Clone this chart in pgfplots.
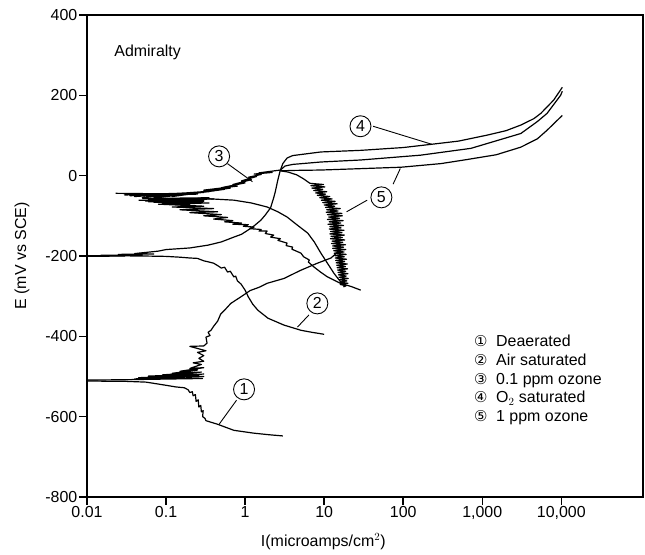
\documentclass[border=0pt]{standalone}
\usepackage{fontspec}
\setmainfont{Liberation Sans}
\newfontfamily\dejavu{DejaVu Sans}
\usepackage{pgfplots}
\pgfplotsset{compat=1.18}
\newcommand{\fs}{\fontsize{16}{19}\selectfont}
\begin{document}
\begin{tikzpicture}
\begin{axis}[
  name=ax,
  scale only axis,
  width=556bp, height=482bp,
  xmode=log, log basis x=10,
  xmin=0.01, xmax=1.08e5,
  ymin=-800, ymax=400,
  xtick={0.01,0.1,1,10,100,1000,10000},
  xticklabels={0.01,0.1,1,10,100,{1,000},{10,000}},
  ytick={-800,-600,-400,-200,0,200,400},
  minor xtick={}, minor tick num=0,
  xtick pos=bottom, ytick pos=left,
  tick align=outside,
  major tick length=8bp,
  axis line style={line width=1.6pt},
  major tick style={line width=1.5pt, black},
  /pgf/number format/assume math mode=true,
  tick label style={font=\fs},
  yticklabel style={inner sep=1.5bp},
  xticklabel style={inner sep=1.5bp},
  label style={font=\fs},
  xlabel={I(microamps/cm$^{2}$)},
  ylabel={E (mV vs SCE)},
  xlabel style={at={(axis description cs:0.425,-0.092)}, anchor=center},
  ylabel style={at={(axis description cs:-0.117,0.5)}, anchor=center},
  clip=false,
  no marks,
  cycle list={{black, solid, mark=none}},
  every axis plot/.append style={line width=1.2pt, line join=round},
]
% Curve 1 cathodic
\addplot coordinates {(0.01,-511)(0.02,-512)(0.03,-512)(0.0556,-514)(0.081,-519)(0.133,-526)(0.17,-528)(0.19,-533)(0.2,-540)(0.215,-538)(0.22,-548)(0.235,-545)(0.24,-562)(0.255,-558)(0.26,-576)(0.275,-572)(0.28,-588)(0.295,-585)(0.29,-600)(0.31,-604)(0.32,-610)(0.45,-619)(0.72,-634)(1.28,-641)(2.0,-645)(3.0,-648)};
% Curve 1 spikes and anodic
\addplot coordinates {(0.01,-509)(0.03,-508)(0.29,-505)(0.04,-506)(0.3,-500)(0.045,-503)(0.26,-497)(0.06,-499)(0.3,-494)(0.09,-496)(0.28,-489)(0.12,-492)(0.25,-484)(0.15,-487)(0.3,-478)(0.2,-480)(0.28,-470)(0.22,-466)(0.3,-462)(0.26,-455)(0.3,-448)(0.25,-440)(0.32,-436)(0.2,-425)(0.3,-424)(0.33,-417)(0.32,-402)(0.36,-398)(0.34,-390)(0.37,-385)(0.4,-375)(0.45,-362)(0.49,-345)(0.55,-335)(0.66,-318)(0.88,-302)(1.16,-286)(1.5,-278)(1.9,-268)(3.1,-256)(5.0,-236)(8.2,-218)(12.2,-205)(14.5,-192)(15.5,-178)};
% Curve 2 cathodic
\addplot coordinates {(0.01,-199)(0.05,-200)(0.1,-201)(0.15,-203)(0.2,-205)(0.25,-206)(0.3,-212)(0.35,-215)(0.4,-218)(0.45,-224)(0.5,-230)(0.55,-228)(0.6,-240)(0.65,-238)(0.72,-252)(0.76,-250)(0.8,-262)(0.89,-270)(1.0,-285)(1.1,-302)(1.25,-320)(1.45,-335)(1.95,-355)(3.1,-372)(5.1,-385)(7,-390)(10,-395)};
% Curve 2 anodic
\addplot coordinates {(0.01,-201)(0.03,-200)(0.015,-198)(0.05,-198)(0.025,-196)(0.07,-195)(0.04,-194)(0.079,-188)(0.1,-184)(0.2,-180)(0.34,-173)(0.5,-165)(0.72,-153)(0.9,-146)(1.08,-136)(1.3,-125)(1.58,-111)(1.8,-98)(2.1,-80)(2.3,-55)(2.41,-40)(2.6,-10)(2.79,14)};
% Curve 3 anodic spikes
\addplot coordinates {(0.023,-44)(0.25,-46)(0.03,-48)(0.3,-42)(0.035,-50)(0.35,-40)(0.04,-52)(0.4,-38)(0.05,-55)(0.45,-36)(0.07,-56)(0.55,-34)(0.12,-52)(0.65,-31)(0.3,-36)(0.8,-26)(0.5,-30)(1.0,-18)(0.7,-22)(1.2,-10)(0.9,-13)(1.4,-2)(1.1,-4)(1.6,3)(1.3,4)(2.2,8)(1.5,7)(2.8,14)};
% extra spikes in the 0.1 ppm ozone wedge
\addplot coordinates {(0.05,-57)(0.35,-55)(0.06,-60)(0.4,-58)(0.055,-63)(0.3,-64)(0.07,-66)(0.25,-69)(0.09,-70)(0.2,-73)};
% Curve 3 cathodic noisy
\addplot coordinates {(0.045,-61)(0.3,-62)(0.06,-65)(0.35,-68)(0.08,-71)(0.3,-76)(0.12,-78)(0.4,-82)(0.15,-85)(0.45,-90)(0.2,-92)(0.5,-97)(0.3,-100)(0.6,-104)(0.4,-108)(0.7,-112)(0.55,-115)(0.9,-118)(0.7,-121)(1.1,-122)(0.95,-126)(1.3,-128)(1.15,-132)(1.6,-134)(1.5,-138)(1.9,-138)(1.8,-144)(2.3,-148)(2.1,-153)(2.8,-157)(2.6,-161)(3.4,-168)(3.3,-174)(4.0,-178)(3.9,-183)(5.1,-193)(5.5,-202)(6.5,-210)(6.3,-215)(7.5,-228)(9,-240)(11,-252)(16,-268)(22,-276)(29,-285)};
% Smooth line B
\addplot coordinates {(0.25,-56)(0.72,-61)(1.2,-68)(1.9,-78)(2.6,-90)(3.4,-103)(4.5,-122)(6.2,-143)(7.5,-165)(9.1,-193)(11,-218)(13.3,-243)(15.5,-260)(17.8,-272)};
% Curve 5 noisy band
\addplot coordinates {(2.8,12)(3.5,9)(4.5,2)(5.5,-8)(6.6,-19)(9.8,-22)(6.8,-25)(10.2,-28)(7.0,-31)(9.6,-34)(7.4,-37)(10.8,-40)(7.8,-43)(10.4,-46)(8.2,-49)(11.8,-52)(8.8,-55)(12.6,-58)(9.2,-61)(13.8,-64)(9.6,-67)(14.6,-70)(10.0,-73)(13.6,-76)(10.4,-79)(16.0,-82)(10.8,-85)(15.0,-88)(10.6,-91)(16.8,-94)(11.0,-97)(17.0,-100)(11.4,-103)(15.6,-106)(11.0,-109)(17.4,-112)(11.6,-115)(16.2,-118)(11.2,-121)(17.6,-124)(11.8,-127)(16.4,-130)(11.6,-133)(17.8,-136)(12.0,-139)(16.8,-142)(11.8,-145)(18.0,-148)(12.2,-151)(17.0,-154)(12.0,-157)(18.2,-160)(12.6,-163)(17.2,-166)(12.4,-169)(18.6,-172)(12.8,-175)(17.6,-178)(12.8,-181)(18.8,-184)(13.2,-187)(17.8,-190)(13.4,-193)(19.0,-196)(13.6,-199)(18.0,-202)(13.8,-205)(19.2,-208)(14.0,-211)(18.2,-214)(14.2,-217)(19.6,-220)(14.4,-223)(18.6,-226)(14.6,-229)(19.8,-232)(14.8,-235)(18.8,-238)(15.0,-241)(20.0,-244)(15.2,-247)(19.0,-250)(15.4,-253)(20.2,-256)(15.6,-259)(19.4,-262)(15.8,-265)(20.0,-268)(16.0,-271)(19.0,-274)(17.5,-277)};
% Upper line (4)
\addplot coordinates {(2.8,14)(3.0,30)(3.4,44)(4.0,50)(9.1,59)(29,63)(100,70)(226,78)(500,86)(1160,101)(2000,112)(3080,126)(4500,142)(5500,155)(8000,188)(10300,220)};
% Middle line
\addplot coordinates {(2.8,14)(3.2,24)(4,28)(9.1,34)(29,39)(166,51)(720,68)(3080,105)(5000,135)(6600,155)(9800,200)(10300,210)};
% Lower line (5)
\addplot coordinates {(2.8,12)(4,13)(9.1,14)(94,21)(300,30)(590,39)(1500,52)(3080,71)(5000,92)(6600,113)(10300,150)};
% annotation labels
\tikzset{lab/.style={circle, draw, line width=0.9pt, inner sep=0pt, minimum size=21bp, font=\fs}}
\node[lab] at (axis cs:0.97,-532) {1};
\draw[line width=0.9pt] (axis cs:0.78,-559) -- (axis cs:0.469,-619);
\node[lab] at (axis cs:8.2,-318) {2};
\draw[line width=0.9pt] (axis cs:6.4,-347) -- (axis cs:4.6,-377);
\node[lab] at (axis cs:0.469,48) {3};
\draw[line width=0.9pt] (axis cs:0.598,30) -- (axis cs:1.24,-15);
\node[lab] at (axis cs:28.8,123) {4};
\draw[line width=0.9pt] (axis cs:41.6,123) -- (axis cs:231,78);
\node[lab] at (axis cs:53,-54) {5};
\draw[line width=0.9pt] (axis cs:74.6,-21) -- (axis cs:92,18);
\draw[line width=0.9pt] (axis cs:35,-61) -- (axis cs:19.2,-90);
% texts
\node[anchor=base west, font=\fs, inner sep=0pt] at (rel axis cs:0.049,0.913) {Admiralty};
\node[anchor=base west, font=\dejavu\fontsize{15}{18}\selectfont, inner sep=0pt] at (rel axis cs:0.696,0.3118) {①};
\node[anchor=base west, font=\fs, inner sep=0pt] at (rel axis cs:0.7356,0.3118) {Deaerated};
\node[anchor=base west, font=\dejavu\fontsize{15}{18}\selectfont, inner sep=0pt] at (rel axis cs:0.696,0.2730) {②};
\node[anchor=base west, font=\fs, inner sep=0pt] at (rel axis cs:0.7356,0.2730) {Air saturated};
\node[anchor=base west, font=\dejavu\fontsize{15}{18}\selectfont, inner sep=0pt] at (rel axis cs:0.696,0.2342) {③};
\node[anchor=base west, font=\fs, inner sep=0pt] at (rel axis cs:0.7356,0.2342) {0.1 ppm ozone};
\node[anchor=base west, font=\dejavu\fontsize{15}{18}\selectfont, inner sep=0pt] at (rel axis cs:0.696,0.1954) {④};
\node[anchor=base west, font=\fs, inner sep=0pt] at (rel axis cs:0.7356,0.1954) {O$_{2}$ saturated};
\node[anchor=base west, font=\dejavu\fontsize{15}{18}\selectfont, inner sep=0pt] at (rel axis cs:0.696,0.1566) {⑤};
\node[anchor=base west, font=\fs, inner sep=0pt] at (rel axis cs:0.7356,0.1566) {1 ppm ozone};
\end{axis}
\pgfresetboundingbox
\path[use as bounding box] ([xshift=-87bp,yshift=-58bp]ax.south west) rectangle ([xshift=2bp,yshift=15bp]ax.north east);
\end{tikzpicture}
\end{document}
